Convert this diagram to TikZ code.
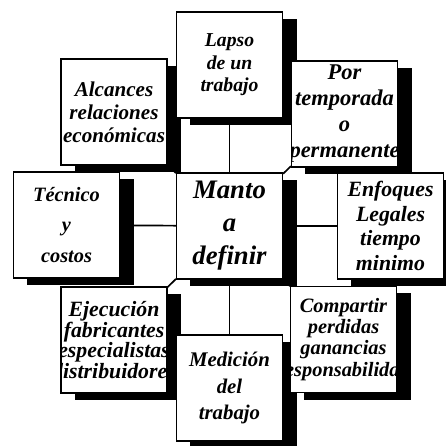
\documentclass[tikz,border=0pt]{standalone}
\usepackage{fontspec}
\setmainfont{Liberation Serif}
\usetikzlibrary{shadows,backgrounds}

% text of a box, clipped to the box: size, line spacing, lines
\newcommand{\boxtext}[3]{\node[txt, font=\bfseries\itshape\fontsize{#1}{#2}\selectfont] at (path picture bounding box.center) {#3};}

\begin{document}
\begin{tikzpicture}[x=0.025cm, y=-0.025cm]
    \tikzstyle{box} = [rectangle, draw, fill=white, line width=0.8pt, minimum width=2.65cm, minimum height=2.65cm, drop shadow={shadow xshift=0.35cm, shadow yshift=-0.175cm, fill=black, opacity=1}]
    \tikzstyle{txt} = [align=center, inner sep=0pt]
    \tikzstyle{spoke} = [line width=1.2pt]

    \useasboundingbox (0,0) rectangle (446,446);

    % top row
    \node (alcances) [box, path picture={\boxtext{15}{16.5pt}{Alcances\\relaciones\\económicas}}] at (114,112) {};
    \node (lapso) [box, path picture={\boxtext{14}{16pt}{Lapso\\de un\\trabajo}}] at (229.5,65) {};
    \node (por) [box, path picture={\boxtext{16}{18.5pt}{Por\\temporada\\o\\permanente}}] at (344.5,114) {};
    % middle row
    \node (tecnico) [box, path picture={\boxtext{14.5}{22pt}{Técnico\\y\\costos}}] at (66.5,225) {};
    \node (manto) [box, path picture={\boxtext{19}{23.5pt}{Manto\\a\\definir}}] at (229.5,226) {};
    \node (enfoques) [box, path picture={\boxtext{15.5}{17.5pt}{Enfoques\\Legales\\tiempo\\minimo}}] at (390.5,226) {};
    % bottom row
    \node (ejecucion) [box, path picture={\boxtext{15.5}{14.5pt}{Ejecución\\fabricantes\\especialistas\\distribuidores}}] at (114,340) {};
    \node (medicion) [box, path picture={\boxtext{14.8}{19pt}{Medición\\del\\trabajo}}] at (229.5,388) {};
    \node (compartir) [box, path picture={\boxtext{14.5}{15pt}{Compartir\\perdidas\\ganancias\\responsabilidad}}] at (343.5,339.5) {};

    \begin{pgfonlayer}{background}
    \draw [spoke] (manto) -- (lapso);
    \draw [spoke] (manto) -- (tecnico);
    \draw [spoke] (manto) -- (enfoques);
    \draw [spoke] (manto) -- (medicion);
    \draw [spoke] (manto) -- (alcances);
    \draw [spoke] (manto) -- (por);
    \draw [spoke] (manto) -- (ejecucion);
    \draw [spoke] (manto) -- (compartir);
    \end{pgfonlayer}

\end{tikzpicture}
\end{document}
